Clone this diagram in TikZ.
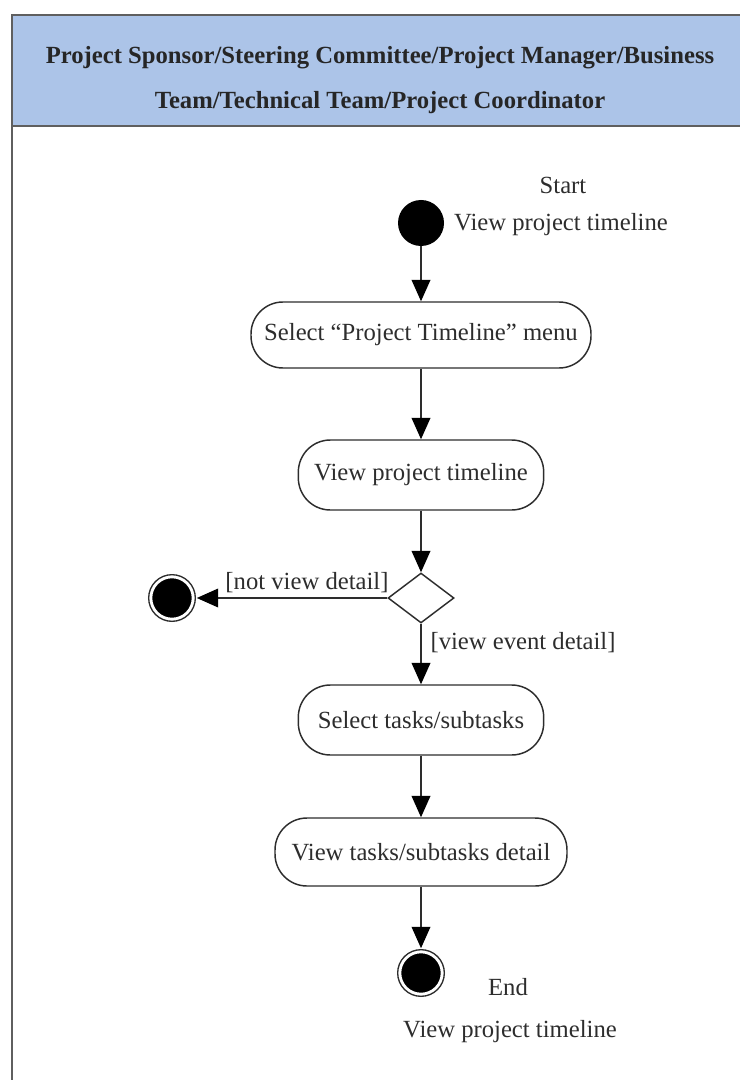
\documentclass[tikz,border=0pt]{standalone}
\usepackage{fontspec}
\setmainfont{Liberation Serif}
\usetikzlibrary{shapes.geometric,arrows.meta}
\definecolor{headblue}{RGB}{172,196,232}
\definecolor{framegray}{RGB}{95,95,95}
\definecolor{inkgray}{RGB}{45,45,45}
\tikzset{
  x=0.75pt, y=-0.75pt,
  frameline/.style={draw=framegray, line width=1.6pt},
  action/.style={draw=inkgray, line width=1.1pt, rounded corners=24pt,
    fill=white, inner sep=0pt, font=\fontsize{18.5}{22}\selectfont, text=inkgray},
  decision/.style={draw=inkgray, line width=1.1pt, diamond, inner sep=0pt,
    minimum width=49.5pt, minimum height=37.5pt},
  startdot/.style={circle, fill=black, inner sep=0pt, minimum size=34.5pt},
  enddot/.style={circle, fill=black, draw=white, line width=2.2pt, inner sep=0pt,
    minimum size=35pt, double=inkgray, double distance=1pt},
  flow/.style={draw=inkgray, line width=1.1pt,
    -{Triangle[length=16pt, width=14pt, color=black]}},
  caption/.style={font=\fontsize{18.5}{22}\selectfont, text=inkgray, inner sep=0pt},
}
\begin{document}
\begin{tikzpicture}
\useasboundingbox (0,0) rectangle (739,1080);

% swimlane header and frame
\fill[headblue] (12,15) rectangle (760,126);
\draw[frameline] (760,15) -- (12,15) -- (12,1100);
\draw[frameline] (12,126) -- (760,126);
\node[align=center, inner sep=0pt, text=black!85,
  font=\fontsize{18.5}{33.5}\selectfont\bfseries] (lane) at (380,80)
  {Project Sponsor/Steering Committee/Project Manager/Business\\Team/Technical Team/Project Coordinator};

% initial node
\node[startdot] (init) at (421,223) {};
\node[caption] (startlbl) at (563,185) {Start};
\node[caption] (startname) at (561,225) {View project timeline};

% actions
\node[action, minimum width=255pt, minimum height=49.5pt] (selmenu) at (421,335)
  {Select ``Project Timeline'' menu};
\node[action, minimum width=184pt, minimum height=52.5pt] (viewtl) at (421,475)
  {View project timeline};
\node[decision] (choice) at (421,598) {};
\node[action, minimum width=184pt, minimum height=52.5pt] (seltask) at (421,720)
  {Select tasks/subtasks};
\node[action, minimum width=219pt, minimum height=51pt] (viewtask) at (421,852)
  {View tasks/subtasks detail};

% final nodes
\node[enddot] (endleft) at (172,598) {};
\node[enddot] (endbottom) at (421,973) {};
\node[caption] (endlbl) at (508,987) {End};
\node[caption] (endname) at (510,1032) {View project timeline};

% control flow
\draw[flow] (init) -- (selmenu);
\draw[flow] (selmenu) -- (viewtl);
\draw[flow] (viewtl) -- (choice);
\draw[flow] (choice.west) -- (endleft);
\draw[flow] (choice.south) -- (seltask);
\draw[flow] (seltask) -- (viewtask);
\draw[flow] (viewtask) -- (endbottom);

% guards
\node[caption] (guardno) at (307,583) {[not view detail]};
\node[caption] (guardyes) at (523,643) {[view event detail]};
\end{tikzpicture}
\end{document}
